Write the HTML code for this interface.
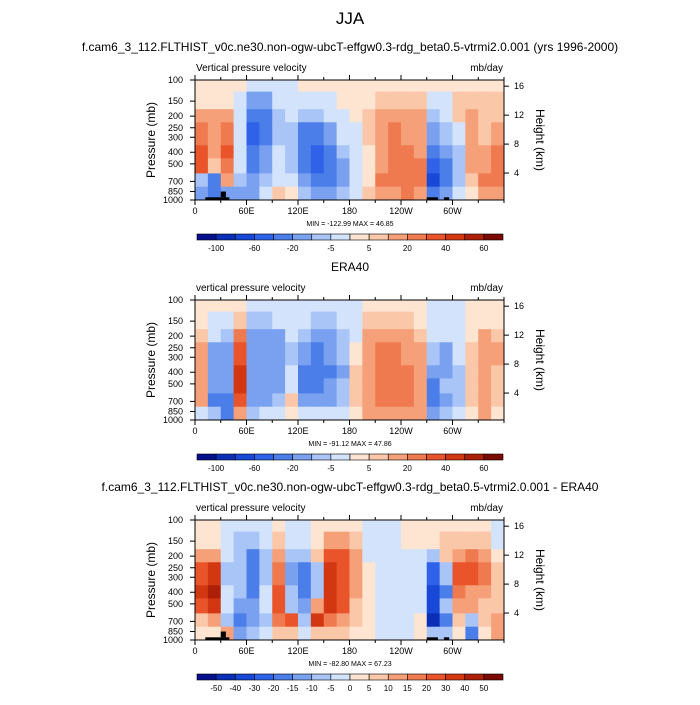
<!DOCTYPE html>
<html><head><meta charset="utf-8"><style>
body{margin:0;background:#fff;font-family:"Liberation Sans",sans-serif}
svg text{font-family:"Liberation Sans",sans-serif;fill:#000}
</style></head><body>
<svg id="chart" width="700" height="700" xmlns="http://www.w3.org/2000/svg">
<rect width="700" height="700" fill="#fff"/>
<text x="350" y="24" font-size="17" text-anchor="middle">JJA</text>
</svg>
<script>
const lonTicks=[0,60,120,180,240,300];
const lonLabels=["0","60E","120E","180","120W","60W"];
const presTicks=[100,150,200,250,300,400,500,700,850,1000];
const heightTicks=[16,12,8,4];
const rowEdges=[100,125,175,225,350,450,600,775,1000];
const colCount=24;
const bounds12=[-100,-80,-60,-40,-20,-10,-5,0,5,10,20,30,40,50,60];
const labels12=["-100","-60","-20","-5","5","20","40","60"];
const bounds3=[-50,-40,-30,-20,-15,-10,-5,0,5,10,15,20,30,40,50];
const labels3=["-50","-40","-30","-20","-15","-10","-5","0","5","10","15","20","30","40","50"];
const palette=["#06108a","#0b2eb7","#1748d8","#2f62e8","#4c7ee9","#7aa1f0","#a9c4f6","#d2e3fb","#fde5d2","#fbc7a9","#f6a07a","#f07a4f","#e9542a","#d33712","#ad1f08","#7b0a02"];
const model=[[2,2,10,20,30,30,-10,-20],[2,2,10,15,10,5,-40,-40],[2,2,15,25,30,25,10,-20],[0,-3,-3,-5,-5,-5,-10,-15],[-3,-20,-40,-50,-40,-30,-20,-20],[-5,-15,-30,-30,-20,-15,-10,-5],[-3,-5,-10,-10,-5,-3,-3,5],[-3,-3,-5,-10,-10,-10,-5,3],[2,-3,-10,-30,-40,-30,-20,-10],[2,-3,-10,-40,-60,-50,-40,-20],[2,-3,-5,-20,-30,-40,-40,-20],[2,2,-3,-5,-10,-15,-20,-10],[2,2,2,-3,-3,-3,-3,-3],[2,2,5,5,3,3,3,5],[2,5,10,15,15,15,20,15],[2,5,15,20,25,20,20,15],[2,5,15,15,25,20,25,20],[2,5,10,15,15,20,20,15],[0,-5,-10,-20,-40,-60,-80,-40],[2,-3,-5,-10,-20,-30,-30,-20],[2,5,5,-3,-10,-10,-10,-5],[2,5,10,10,10,10,5,3],[2,5,5,5,10,15,20,10],[2,5,5,10,20,25,25,15]];
const era=[[2,3,5,10,10,10,10,-5],[2,-3,-5,-20,-20,-20,-30,-10],[2,-3,-10,-20,-20,-20,-40,-30],[2,5,20,30,40,40,30,10],[-3,-10,-20,-20,-20,-20,-20,-10],[-3,-10,-20,-20,-20,-20,-20,-5],[-3,-5,-20,-20,-20,-20,-10,-5],[-3,-5,-5,-10,-5,-5,5,3],[-3,-5,-10,-20,-30,-40,-20,-5],[-3,-10,-20,-30,-30,-30,-20,-5],[-3,-10,-20,-20,-30,-20,-20,-5],[-3,-5,-10,-10,-20,-10,-10,-3],[-3,-3,-3,3,5,5,5,3],[2,5,10,15,15,15,15,10],[2,5,10,20,20,20,20,10],[2,5,10,20,20,20,20,15],[2,5,10,15,20,20,20,15],[2,3,5,10,15,15,10,10],[-3,-3,-5,-10,-20,-30,-40,-20],[-3,-3,-5,-20,-20,-10,-20,-10],[-3,-3,-5,-5,-10,-10,-10,-5],[2,2,3,5,5,5,5,3],[2,3,10,10,10,10,15,10],[2,3,5,10,5,5,5,3]];
const diff=[[2,3,10,20,30,20,5,0],[2,3,10,30,40,30,10,0],[-3,-5,-5,-10,-5,-5,-10,10],[-5,-10,-10,-10,-10,-15,-20,-15],[-5,-10,-20,-20,-20,-15,-15,-10],[-3,-5,-10,-10,-5,-5,-10,-5],[2,5,10,15,20,20,15,5],[-3,-5,-10,-15,-10,-10,20,5],[-3,-5,-10,-20,-20,-15,-10,-3],[2,3,5,-10,-10,10,30,5],[3,10,20,30,30,30,15,5],[3,10,20,20,20,20,10,5],[2,5,10,10,10,5,5,2],[-2,-2,-2,2,2,2,2,2],[-2,-3,-5,-5,-5,-3,-3,-2],[-2,-2,-3,-3,-3,-3,-2,-2],[2,2,-2,-2,-2,-2,-2,-2],[2,2,-2,-2,-2,-2,2,2],[2,3,-10,-30,-40,-40,-50,-10],[2,5,5,-10,-20,-10,-20,-10],[2,5,10,20,15,10,5,2],[2,5,15,20,10,10,-10,-20],[2,5,10,15,10,5,5,2],[-2,-2,3,5,5,5,10,10]];
const topoLon=[[12,40,1000,950],[30,36,950,850],[270,283,1000,950],[290,296,1000,950]];

const svg=document.getElementById('chart');
const NS="http://www.w3.org/2000/svg";
function mk(tag,attrs,parent){const e=document.createElementNS(NS,tag);for(const k in attrs)e.setAttribute(k,attrs[k]);(parent||svg).appendChild(e);return e;}
const X0=195,X1=504;
function xs(lon){return X0+(X1-X0)*lon/360;}
function levelIdx(v,b){let i=0;while(i<b.length&&v>=b[i])i++;return i;}

function panel(top,data,bounds,cbLabels,title,subtitle,minmax,showTopo,pname){
  const g=mk('g',{});
  
  
  const H=120;
  const ys=p=>top+H*Math.log10(p/100);
  if(title){const t=mk('text',{x:350,y:top-29,'font-size':12,'text-anchor':'middle'},g);t.textContent=title;}
  let t=mk('text',{x:X0+1,y:top-9,'font-size':10},g);t.textContent=subtitle;
  t=mk('text',{x:X1-1,y:top-9,'font-size':10,'text-anchor':'end'},g);t.textContent="mb/day";
  const cw=360/colCount;
  for(let c=0;c<colCount;c++){for(let r=0;r<rowEdges.length-1;r++){
    const v=data[c][r];const x=xs(c*cw),y=ys(rowEdges[r]);
    const cell=mk('rect',{x:x,y:y,width:xs((c+1)*cw)-x+0.5,height:ys(rowEdges[r+1])-y+0.5,fill:palette[levelIdx(v,bounds)]},g);
    
    
  }}
  if(showTopo){topoLon.forEach(tp=>{const b=mk('rect',{x:xs(tp[0]),y:ys(tp[3]),width:xs(tp[1])-xs(tp[0]),height:ys(tp[2])-ys(tp[3]),fill:'#000'},g);});}
  const fr=mk('rect',{x:X0,y:top,width:X1-X0,height:H,fill:'none',stroke:'#000','stroke-width':1},g);
  
  for(let l=0;l<=360;l+=30){const major=l%60===0&&l<360;const len=major?5:3;
    mk('line',{x1:xs(l),x2:xs(l),y1:top+H,y2:top+H+len,stroke:'#000'},g);
    mk('line',{x1:xs(l),x2:xs(l),y1:top,y2:top-len,stroke:'#000'},g);}
  lonTicks.forEach((l,i)=>{const tx=mk('text',{x:xs(l),y:top+H+14,'font-size':9,'text-anchor':'middle'},g);tx.textContent=lonLabels[i];});
  presTicks.forEach(p=>{mk('line',{x1:X0-5,x2:X0,y1:ys(p),y2:ys(p),stroke:'#000'},g);
    const tx=mk('text',{x:X0-12,y:ys(p)+3,'font-size':9,'text-anchor':'end'},g);tx.textContent=p;});
  heightTicks.forEach(h=>{const p=1000*Math.exp(-h/7.2);const y=ys(p)+2;mk('line',{x1:X1,x2:X1+5,y1:y,y2:y,stroke:'#000'},g);
    const tx=mk('text',{x:X1+10,y:y+3,'font-size':9},g);tx.textContent=h;});
  let yl=mk('text',{x:0,y:0,'font-size':12,'text-anchor':'middle',transform:`translate(155,${top+60}) rotate(-90)`},g);yl.textContent="Pressure (mb)";
  yl=mk('text',{x:0,y:0,'font-size':12,'text-anchor':'middle',transform:`translate(536,${top+60}) rotate(90)`},g);yl.textContent="Height (km)";
  t=mk('text',{x:350,y:top+H+26,'font-size':7,'text-anchor':'middle'},g);t.textContent=minmax;
  const cy=top+H+34,cx0=197,cx1=503,bw=(cx1-cx0)/16;
  for(let i=0;i<16;i++){const b=mk('rect',{x:cx0+i*bw,y:cy,width:bw,height:6,fill:palette[i],stroke:'#000','stroke-width':0.6},g);}
  const step=cbLabels.length===8?2:1;
  cbLabels.forEach((lb,i)=>{const bi=i*step+1;const tx=mk('text',{x:cx0+bi*bw,y:cy+17,'font-size':8,'text-anchor':'middle'},g);tx.textContent=lb;});
}
const runName="f.cam6_3_112.FLTHIST_v0c.ne30.non-ogw-ubcT-effgw0.3-rdg_beta0.5-vtrmi2.0.001";
panel(80,model,bounds12,labels12,runName+" (yrs 1996-2000)","Vertical pressure velocity","MIN = -122.99  MAX =  46.85",true,'model-panel');
panel(300,era,bounds12,labels12,"ERA40","vertical pressure velocity","MIN = -91.12  MAX =  47.86",false,'era40-panel');
panel(520,diff,bounds3,labels3,runName+" - ERA40","vertical pressure velocity","MIN = -82.80  MAX =  67.23",true,'difference-panel');
</script>
</body></html>
